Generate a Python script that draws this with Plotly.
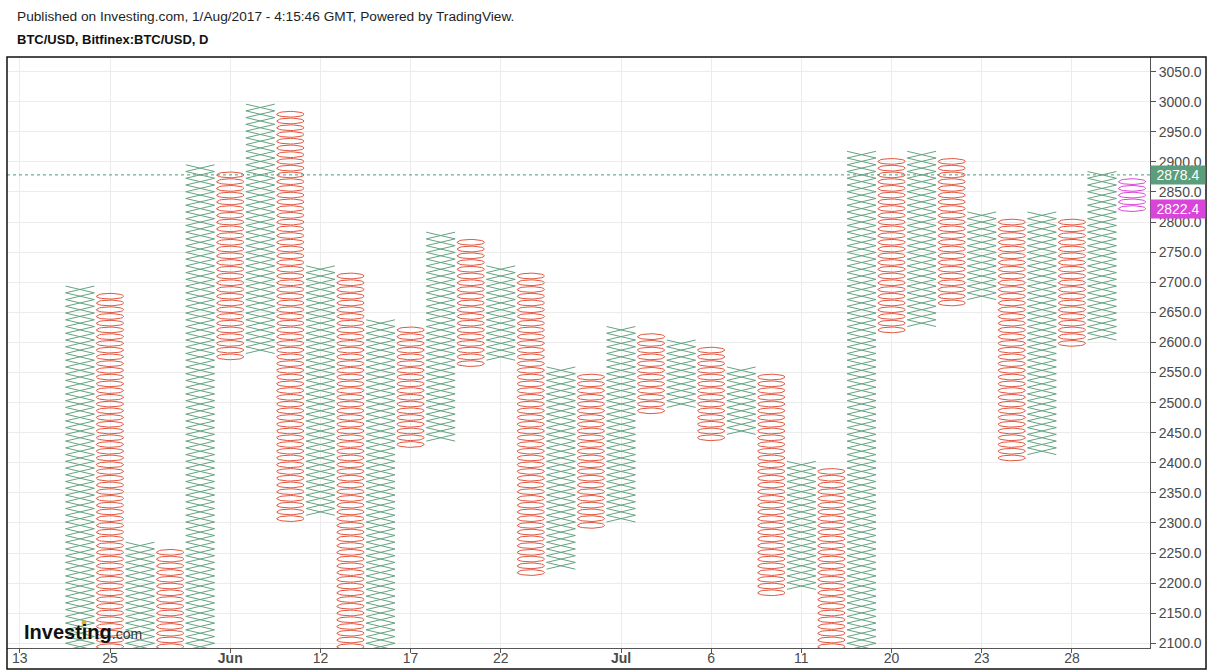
import numpy as np
import plotly.graph_objects as go

# ---------------- data ----------------
box_size = 11.2
col_types = ["X", "O", "X", "O", "X", "O", "X", "O", "X", "O",
             "X", "O", "X", "O", "X", "O", "X", "O", "X", "O",
             "X", "O", "X", "O", "X", "O", "X", "O", "X", "O",
             "X", "O", "X", "O", "X", "O"]
col_low = [2016.0, 1859.2, 1870.4, 1904.0, 1915.2, 2576.0, 2587.2, 2307.2, 2318.4, 2072.0,
           2083.2, 2430.4, 2441.6, 2564.8, 2576.0, 2217.6, 2228.8, 2296.0, 2307.2, 2486.4,
           2497.6, 2441.6, 2452.8, 2184.0, 2195.2, 1836.8, 1848.0, 2620.8, 2632.0, 2665.6,
           2676.8, 2408.0, 2419.2, 2598.4, 2609.6, 2822.4]
col_high = [2688.0, 2676.8, 2262.4, 2251.2, 2889.6, 2878.4, 2990.4, 2979.2, 2721.6, 2710.4,
            2632.0, 2620.8, 2777.6, 2766.4, 2721.6, 2710.4, 2553.6, 2542.4, 2620.8, 2609.6,
            2598.4, 2587.2, 2553.6, 2542.4, 2396.8, 2385.6, 2912.0, 2900.8, 2912.0, 2900.8,
            2811.2, 2800.0, 2811.2, 2800.0, 2878.4, 2867.2]
last_price = 2822.4
prev_price = 2878.4
x_tick_pos = [-2, 1, 5, 8, 11, 14, 18, 21, 24, 27, 30, 33]
x_tick_text = ["13", "25", "<b>Jun</b>", "12", "17", "22", "<b>Jul</b>", "6", "11", "20", "23", "28"]
y_ticks = list(range(2100, 3051, 50))

# ---------------- style ----------------
GREEN = "#64a482"
RED = "#e2553f"
MAGENTA = "#d944d9"
FONT = "Liberation Sans, Arial, sans-serif"
TXT = "#4a4a4a"

x_half = 0.48
o_half_w = 0.455
o_half_h = 0.42 * box_size

fig = go.Figure()

xs_x, ys_x = [], []
xs_o, ys_o = [], []
xs_m, ys_m = [], []
theta = np.linspace(0, 2 * np.pi, 29)
n_cols = len(col_types)
for i, (t, lo, hi) in enumerate(zip(col_types, col_low, col_high)):
    n = int(round((hi - lo) / box_size)) + 1
    levels = [lo + k * box_size for k in range(n)]
    if t == "X":
        edges = [lo - box_size / 2 + k * box_size for k in range(n + 1)]
        for sgn in (1, -1):
            for k, e in enumerate(edges):
                xs_x.append(i + sgn * (x_half if k % 2 == 0 else -x_half))
                ys_x.append(e)
            xs_x.append(None)
            ys_x.append(None)
    else:
        tx, ty = (xs_m, ys_m) if i == n_cols - 1 else (xs_o, ys_o)
        for lv in levels:
            tx.extend(list(i + o_half_w * np.cos(theta)) + [None])
            ty.extend(list(lv + o_half_h * np.sin(theta)) + [None])

fig.add_trace(go.Scatter(x=xs_x, y=ys_x, mode="lines", line=dict(color=GREEN, width=1),
                         hoverinfo="skip", showlegend=False))
fig.add_trace(go.Scatter(x=xs_o, y=ys_o, mode="lines", line=dict(color=RED, width=1),
                         hoverinfo="skip", showlegend=False))
fig.add_trace(go.Scatter(x=xs_m, y=ys_m, mode="lines", line=dict(color=MAGENTA, width=1),
                         hoverinfo="skip", showlegend=False))

# dotted price line
fig.add_shape(type="line", xref="paper", x0=0, x1=1, yref="y", y0=prev_price, y1=prev_price,
              line=dict(color="#4f9a74", width=1, dash="dot"))

# outer frame
fig.add_shape(type="rect", xref="paper", yref="paper", x0=0, x1=1.049, y0=-0.0355, y1=1,
              line=dict(color="#111111", width=1.5), layer="above")

# price labels
for val, col in ((prev_price, "#5c9e7c"), (last_price, MAGENTA)):
    fig.add_annotation(xref="paper", x=1.0, xanchor="left", yref="y", y=val, yanchor="middle",
                       text=f"{val:.1f}", showarrow=False, bgcolor=col, width=52, height=16,
                       align="center", borderpad=1,
                       font=dict(family=FONT, size=14, color="white"))

# titles
fig.add_annotation(xref="paper", yref="paper", x=0.007, y=1.0677, xanchor="left", yanchor="middle",
                   text="Published on Investing.com, 1/Aug/2017 - 4:15:46 GMT, Powered by TradingView.",
                   showarrow=False, font=dict(family=FONT, size=13.7, color="#1e1e1e"))
fig.add_annotation(xref="paper", yref="paper", x=0.007, y=1.0288, xanchor="left", yanchor="middle",
                   text="<b>BTC/USD, Bitfinex:BTC/USD, D</b>",
                   showarrow=False, font=dict(family=FONT, size=13, color="#111111"))

# logo
fig.add_annotation(xref="paper", yref="paper", x=0.0135, y=0.027, xanchor="left", yanchor="middle",
                   text="<b>Investing</b><span style='font-size:14px;font-weight:normal;color:#333333'>.com</span>",
                   showarrow=False, font=dict(family=FONT, size=20, color="#111111"))
fig.add_shape(type="circle", xref="paper", yref="paper", x0=0.0652, x1=0.0696, y0=0.0385, y1=0.0465,
              fillcolor="#f5a623", line=dict(width=0), layer="above")

fig.update_layout(
    width=1211, height=672, autosize=False,
    margin=dict(l=7, r=61, t=57, b=24, pad=0),
    paper_bgcolor="white", plot_bgcolor="white",
    xaxis=dict(range=[-2.427, 35.597], tickmode="array", tickvals=x_tick_pos, ticktext=x_tick_text,
               showgrid=True, gridcolor="#ececec", gridwidth=1, zeroline=False,
               showline=True, linecolor="#555555", linewidth=1, automargin=False,
               ticks="outside", ticklen=4, tickcolor="#555555", ticklabelstandoff=-7,
               tickfont=dict(family=FONT, size=14, color=TXT), fixedrange=True),
    yaxis=dict(range=[2092.2, 3074.3], side="right", tickmode="array", tickvals=y_ticks,
               ticktext=[f"{v:.1f}" for v in y_ticks],
               showgrid=True, gridcolor="#ececec", gridwidth=1, zeroline=False,
               showline=True, linecolor="#555555", linewidth=1, automargin=False,
               ticks="outside", ticklen=5, tickcolor="#555555",
               tickfont=dict(family=FONT, size=14, color=TXT), fixedrange=True),
)

fig.write_html("out.html")
